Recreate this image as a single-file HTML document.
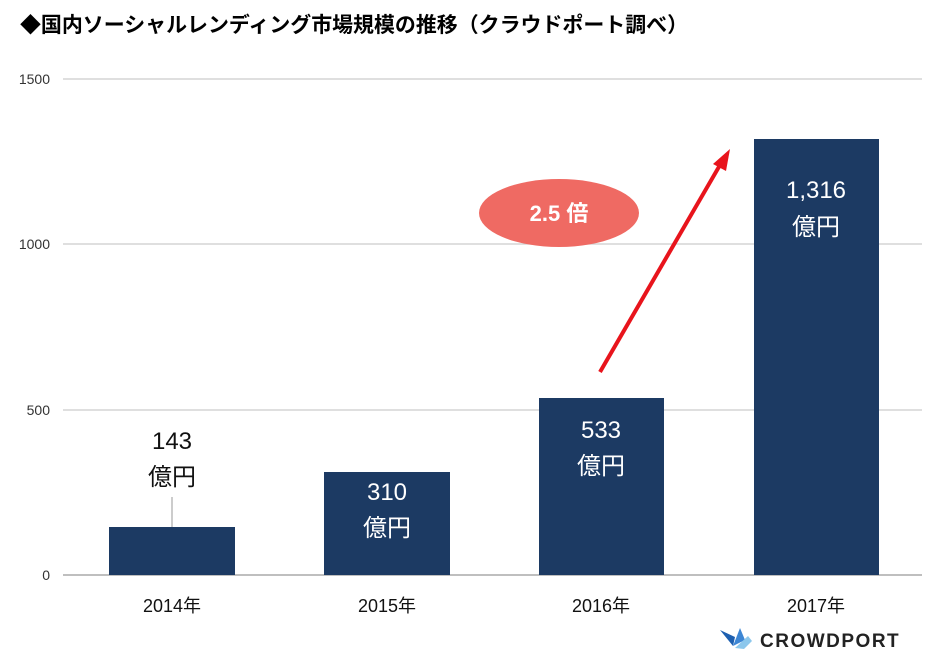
<!DOCTYPE html>
<html><head><meta charset="utf-8"><style>
html,body{margin:0;padding:0;background:#fff;}
svg{display:block;}
text{font-family:"Liberation Sans","Noto Sans CJK JP",sans-serif;}
</style></head><body>
<svg width="941" height="659" viewBox="0 0 941 659" xmlns="http://www.w3.org/2000/svg">
<text x="20" y="32" font-size="21" font-weight="bold" fill="#000" textLength="668" lengthAdjust="spacingAndGlyphs">◆国内ソーシャルレンディング市場規模の推移（クラウドポート調べ）</text>
<g stroke="#cccccc" stroke-width="1.2">
<line x1="63" y1="79" x2="922" y2="79"/>
<line x1="63" y1="244" x2="922" y2="244"/>
<line x1="63" y1="410" x2="922" y2="410"/>
</g>
<line x1="63" y1="575" x2="922" y2="575" stroke="#999" stroke-width="1.2"/>
<g font-size="14" fill="#333" text-anchor="end">
<text x="50" y="84">1500</text>
<text x="50" y="249">1000</text>
<text x="50" y="415">500</text>
<text x="50" y="580">0</text>
</g>
<g fill="#1c3a63">
<rect x="109" y="527" width="126" height="48"/>
<rect x="324" y="472" width="126" height="103"/>
<rect x="539" y="398" width="125" height="177"/>
<rect x="754" y="139" width="125" height="436"/>
</g>
<line x1="172" y1="497" x2="172" y2="527" stroke="#999" stroke-width="1"/>
<g font-size="24" text-anchor="middle">
<text x="172" y="449" fill="#111">143</text>
<text x="172" y="485" fill="#111">億円</text>
<text x="387" y="500" fill="#fff">310</text>
<text x="387" y="536" fill="#fff">億円</text>
<text x="601" y="438" fill="#fff">533</text>
<text x="601" y="474" fill="#fff">億円</text>
<text x="816" y="198" fill="#fff">1,316</text>
<text x="816" y="235" fill="#fff">億円</text>
</g>
<g font-size="18" fill="#111" text-anchor="middle">
<text x="172" y="612">2014年</text>
<text x="387" y="612">2015年</text>
<text x="601" y="612">2016年</text>
<text x="816" y="612">2017年</text>
</g>
<ellipse cx="559" cy="213" rx="80" ry="34" fill="#ef6a63"/>
<text x="559" y="221" font-size="22" font-weight="bold" fill="#fff" text-anchor="middle">2.5 倍</text>
<line x1="600" y1="372" x2="720" y2="165" stroke="#e8141c" stroke-width="4"/>
<polygon points="730,149 713,164 726,171" fill="#e8141c"/>
<g>
<polygon points="720,630 735,637 733,646" fill="#1d5fb0"/>
<polygon points="733,646 740,628 745,640" fill="#3d86d4"/>
<polygon points="735,648 748,636 752,641 744,649" fill="#8cc7ec"/>
</g>
<text x="760" y="647" font-size="19" font-weight="bold" fill="#222" letter-spacing="1.5">CROWDPORT</text>
</svg>
</body></html>
